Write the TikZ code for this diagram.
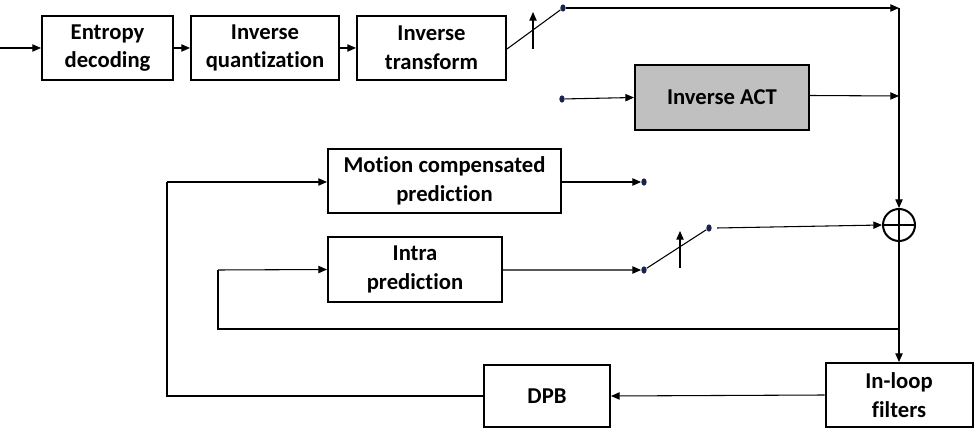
\documentclass[tikz,border=0pt]{standalone}
\usepackage{fontspec}
\setmainfont[Ligatures=NoCommon]{Carlito}
\usetikzlibrary{arrows.meta,shapes.geometric}
\begin{document}
\begin{tikzpicture}[x=0.75pt,y=-0.75pt,
  box/.style={draw=black,line width=1.5pt,align=center,inner sep=0pt,
    font=\fontsize{17}{21.5}\selectfont\bfseries},
  conn/.style={line width=0.8pt,draw=black},
  arr/.style={conn,-{Triangle[length=6.5pt,width=5.5pt]}},
  sdot/.style={ellipse,fill={rgb,255:red,25;green,35;blue,75},minimum width=4pt,minimum height=5.5pt,inner sep=0pt},
]
\useasboundingbox (0,0) rectangle (974,441);
% boxes
\node[box,minimum width={131*0.75pt},minimum height={64*0.75pt}] (ent) at (107.5,48) {Entropy\\decoding};
\node[box,minimum width={148*0.75pt},minimum height={64*0.75pt}] (iq) at (265,48) {Inverse\\quantization};
\node[box,minimum width={149*0.75pt},minimum height={64*0.75pt}] (it) at (431.5,48) {Inverse\\transform};
\node[box,fill={rgb,255:red,192;green,192;blue,192},minimum width={174*0.75pt},minimum height={65*0.75pt}] (act) at (722,97.5) {Inverse ACT};
\node[box,minimum width={233*0.75pt},minimum height={64*0.75pt}] (mcp) at (444.5,181) {Motion compensated\\prediction};
\node[box,minimum width={174*0.75pt},minimum height={65*0.75pt}] (intra) at (415,269.5) {Intra\\prediction};
\node[box,minimum width={147*0.75pt},minimum height={64*0.75pt}] (ilf) at (899,395) {In-loop\\filters};
\node[box,minimum width={126*0.75pt},minimum height={62*0.75pt}] (dpb) at (547,396) {DPB};
\node[circle,draw=black,line width=1.5pt,minimum size={32*0.75pt},inner sep=0pt] (sum) at (899,225) {};
\draw[line width=1.5pt] (sum.north) -- (sum.south) (sum.west) -- (sum.east);
% dots
\node[sdot] (dA) at (563,8) {};
\node[sdot] (dB) at (562,99) {};
\node[sdot] (dC) at (644,182) {};
\node[sdot] (dD) at (644,270) {};
\node[sdot] (dE) at (709,228) {};
% coordinates
\coordinate (in) at (0,48);
\coordinate (jA) at (899,8);
\coordinate (jB) at (899,96);
\coordinate (br) at (899,329);
\coordinate (lA) at (218,329);
\coordinate (lB) at (218,270);
\coordinate (mA) at (167,396);
\coordinate (mB) at (167,182);
\coordinate (swA1) at (533,49);
\coordinate (swA2) at (533,12);
\coordinate (swB1) at (680,268);
\coordinate (swB2) at (680,231);
% connectors
\draw[arr] (in) -- (ent.west);
\draw[arr] (ent) -- (iq);
\draw[arr] (iq) -- (it);
\draw[conn] ([yshift=-0.75pt]it.east) -- (dA);
\draw[arr] (swA1) -- (swA2);
\draw[arr] (dA) -- (jA);
\draw[arr] (jA) -- (sum.north);
\draw[arr] (dB) -- (act.west);
\draw[arr] ([yshift=1.5pt]act.east) -- (jB);
\draw[arr] ([yshift=-0.75pt]mcp.east) -- (dC.west);
\draw[arr] ([yshift=-0.4pt]intra.east) -- (dD.west);
\draw[conn] (dD) -- (dE);
\draw[arr] (swB1) -- (swB2);
\draw[arr] ([xshift=6pt]dE.center) -- (sum.west);
\draw[arr] (sum.south) -- (ilf.north);
\draw[conn] (br) -- (lA) -- (lB);
\draw[arr] (lB) -- (intra.west);
\draw[arr] (ilf.west) -- (dpb.east);
\draw[conn] (dpb.west) -- (mA) -- (mB);
\draw[arr] (mB) -- ([yshift=-0.75pt]mcp.west);
\end{tikzpicture}
\end{document}
